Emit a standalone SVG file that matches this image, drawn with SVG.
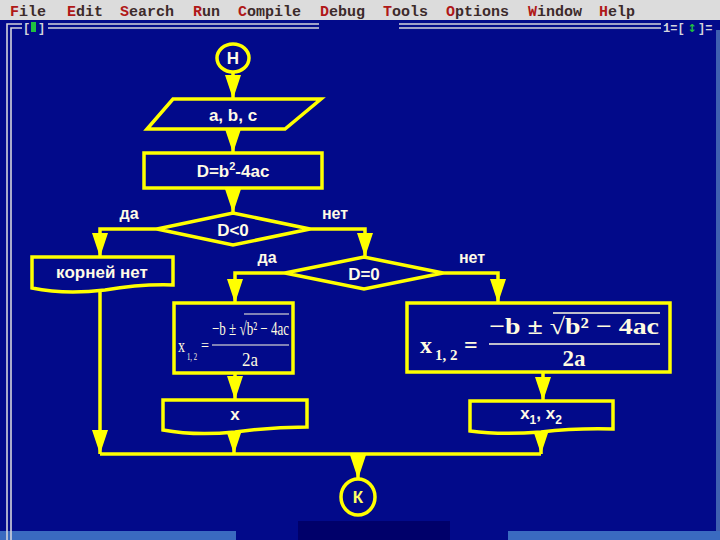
<svg xmlns="http://www.w3.org/2000/svg" width="720" height="540" viewBox="0 0 720 540">
<defs>
<style>
.ln{stroke:#ffff00;stroke-width:3.5;fill:none;stroke-linejoin:miter}
.sh{stroke:#ffff00;stroke-width:3.5;fill:#020a8a;stroke-linejoin:miter}
.t{font-family:"Liberation Sans",Arial,sans-serif;font-weight:bold;font-size:17px;fill:#fffbe6;text-anchor:middle}
.lbl{font-family:"Liberation Sans",Arial,sans-serif;font-weight:bold;font-size:16px;fill:#fffbe6;text-anchor:middle}
.menu{font-family:"Liberation Mono","Courier New",monospace;font-weight:bold;font-size:15px;fill:#3c2a2a}
.hk{fill:#b01818}
.fr{stroke:#d4d4dc;stroke-width:1.6;fill:none}
.ft{font-family:"Liberation Mono","Courier New",monospace;font-weight:bold;font-size:12px;fill:#d4d4dc}
.ser{font-family:"Liberation Serif","Times New Roman",serif;fill:#fffbe0}
</style>
<marker id="ah" viewBox="0 0 24 16" refX="24" refY="8" markerWidth="24" markerHeight="16" markerUnits="userSpaceOnUse" orient="auto">
<path d="M0,0 L24,8 L0,16 Z" fill="#ffff00"/>
</marker>
</defs>

<!-- background -->
<rect x="0" y="0" width="720" height="540" fill="#020a8a"/>
<rect x="0" y="0" width="720" height="20" fill="#dcdcdc"/>
<rect x="716" y="30" width="4" height="501" fill="#3f5fb0"/>
<rect x="0" y="531" width="236" height="9" fill="#3a6ac0"/>
<rect x="508" y="531" width="212" height="9" fill="#3a6ac0"/>
<rect x="298" y="521" width="152" height="19" fill="#00006a"/>

<!-- menu -->
<g id="menu">
<text class="menu" x="10" y="16"><tspan class="hk">F</tspan>ile</text>
<text class="menu" x="67" y="16"><tspan class="hk">E</tspan>dit</text>
<text class="menu" x="120" y="16"><tspan class="hk">S</tspan>earch</text>
<text class="menu" x="193" y="16"><tspan class="hk">R</tspan>un</text>
<text class="menu" x="238" y="16"><tspan class="hk">C</tspan>ompile</text>
<text class="menu" x="320" y="16"><tspan class="hk">D</tspan>ebug</text>
<text class="menu" x="383" y="16"><tspan class="hk">T</tspan>ools</text>
<text class="menu" x="446" y="16"><tspan class="hk">O</tspan>ptions</text>
<text class="menu" x="528" y="16"><tspan class="hk">W</tspan>indow</text>
<text class="menu" x="599" y="16"><tspan class="hk">H</tspan>elp</text>
</g>

<!-- window frame -->
<g id="frame">
<path class="fr" d="M7,540 V24 H22"/>
<path class="fr" d="M11,540 V28 H22"/>
<text class="ft" x="23" y="32">[</text>
<rect x="31" y="22" width="5" height="10" fill="#20c040"/>
<text class="ft" x="38" y="32">]</text>
<path class="fr" d="M48,24 H319 M48,28 H319 M399,24 H661 M399,28 H661"/>
<text class="ft" x="663" y="32">1=[</text>
<text x="692" y="32" font-family="DejaVu Sans,sans-serif" font-size="11" font-weight="bold" fill="#20c040" text-anchor="middle">↕</text>
<text class="ft" x="698" y="32">]=</text>
</g>

<!-- connectors -->
<g id="connectors">
<path class="ln" marker-end="url(#ah)" d="M233,72 V99"/>
<path class="ln" marker-end="url(#ah)" d="M233,129 V153"/>
<path class="ln" marker-end="url(#ah)" d="M233,188 V213"/>
<path class="ln" marker-end="url(#ah)" d="M157,229 H100 V257"/>
<path class="ln" marker-end="url(#ah)" d="M310,229 H365 V257"/>
<path class="ln" marker-end="url(#ah)" d="M285,273 H235 V303"/>
<path class="ln" marker-end="url(#ah)" d="M443,273 H498 V303"/>
<path class="ln" marker-end="url(#ah)" d="M235,373 V400"/>
<path class="ln" marker-end="url(#ah)" d="M543,372 V401"/>
<path class="ln" marker-end="url(#ah)" d="M100,289 V454"/>
<path class="ln" marker-end="url(#ah)" d="M234,432 V454"/>
<path class="ln" marker-end="url(#ah)" d="M541,431 V454"/>
<path class="ln" d="M100,454 H541"/>
<path class="ln" marker-end="url(#ah)" d="M358,454 V479"/>
<text class="lbl" x="129" y="219">да</text>
<text class="lbl" x="335" y="219">нет</text>
<text class="lbl" x="267" y="263">да</text>
<text class="lbl" x="472" y="263">нет</text>
</g>

<!-- nodes -->
<g id="start">
<ellipse class="sh" cx="233" cy="58" rx="16" ry="14"/>
<text class="t" x="233" y="64">Н</text>
</g>

<g id="input">
<polygon class="sh" points="173,99 321,99 285,129 147,129"/>
<text class="t" x="233" y="121">a, b, c</text>
</g>

<g id="calcD">
<rect class="sh" x="144" y="153" width="178" height="35"/>
<text class="t" x="233" y="177">D=b<tspan font-size="11" dy="-7">2</tspan><tspan dy="7">-4ac</tspan></text>
</g>

<g id="condNeg">
<polygon class="sh" points="157,229 233,213 310,229 233,245"/>
<text class="t" x="233" y="236">D&lt;0</text>
</g>

<g id="noRoots">
<path class="sh" d="M32,257 H173 V285 Q140,284 105,290 Q65,295 32,288 Z"/>
<text class="t" x="102" y="278">корней нет</text>
</g>

<g id="condZero">
<polygon class="sh" points="285,273 364,257 443,273 364,289"/>
<text class="t" x="364" y="280">D=0</text>
</g>

<g id="formula1">
<rect class="sh" x="174" y="303" width="119" height="70"/>
<text class="ser" x="178" y="352" font-size="19" textLength="7" lengthAdjust="spacingAndGlyphs">x</text>
<text class="ser" x="187" y="360" font-size="11" textLength="10" lengthAdjust="spacingAndGlyphs">1, 2</text>
<text class="ser" x="201" y="351" font-size="16" textLength="8" lengthAdjust="spacingAndGlyphs">=</text>
<text class="ser" x="212" y="335" font-size="19" textLength="77" lengthAdjust="spacingAndGlyphs">−b ± √b² − 4ac</text>
<line x1="244" y1="314" x2="289" y2="314" stroke="#fffbe0" stroke-width="1.2"/>
<line x1="212" y1="345" x2="289" y2="345" stroke="#fffbe0" stroke-width="1.2"/>
<text class="ser" x="242" y="366" font-size="19" textLength="16" lengthAdjust="spacingAndGlyphs">2a</text>
</g>

<g id="formula2">
<rect class="sh" x="407" y="303" width="263" height="69"/>
<text class="ser" x="420" y="353" font-size="24" font-weight="bold">x</text>
<text class="ser" x="435" y="360" font-size="15" font-weight="bold">1, 2</text>
<text class="ser" x="464" y="353" font-size="24" font-weight="bold">=</text>
<text class="ser" x="489" y="334" font-size="23" font-weight="bold" textLength="170" lengthAdjust="spacingAndGlyphs">−b ± √b² − 4ac</text>
<line x1="553" y1="313" x2="660" y2="313" stroke="#fffbe0" stroke-width="1.5"/>
<line x1="489" y1="344" x2="660" y2="344" stroke="#fffbe0" stroke-width="1.5"/>
<text class="ser" x="574" y="366" font-size="23" font-weight="bold" text-anchor="middle">2a</text>
</g>

<g id="outX">
<path class="sh" d="M163,400 H307 V427 Q270,427 235,432 Q195,436 163,430 Z"/>
<text class="t" x="235" y="420">x</text>
</g>

<g id="outX12">
<path class="sh" d="M470,401 H613 V429 Q575,428 541,432 Q500,435 470,431 Z"/>
<text class="t" x="541" y="419">x<tspan font-size="12" dy="5">1</tspan><tspan dy="-5">, x</tspan><tspan font-size="12" dy="5">2</tspan></text>
</g>

<g id="end">
<ellipse class="sh" cx="358" cy="497" rx="17" ry="18"/>
<text class="t" x="358" y="503" style="fill:#ffff66">К</text>
</g>
</svg>
